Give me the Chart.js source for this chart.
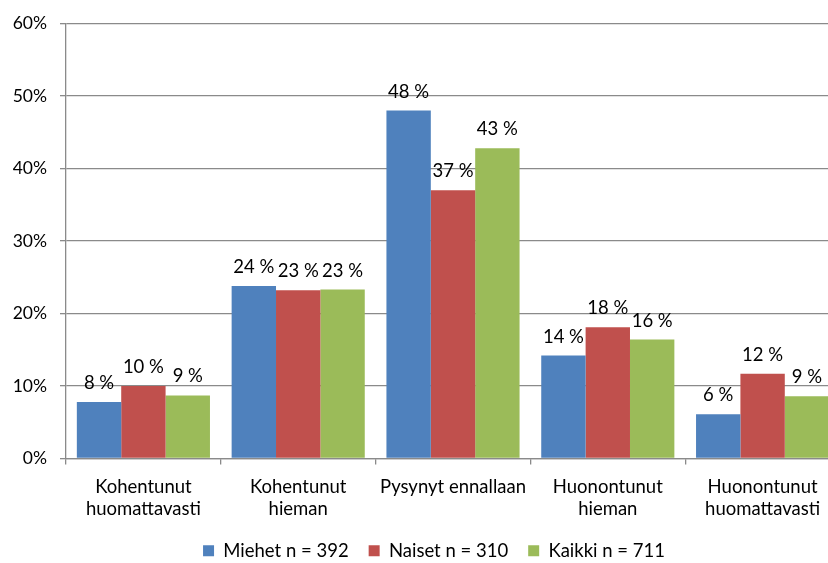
<!DOCTYPE html>
<html>
<head>
<meta charset="utf-8">
<script src="https://cdn.jsdelivr.net/npm/chart.js@4/dist/chart.umd.min.js"></script>
<style>
  html, body { margin: 0; padding: 0; background: #fff; overflow: hidden; }
  #wrap { position: absolute; left: 0; top: 0; width: 868px; height: 577px; }
</style>
</head>
<body>
<div id="wrap"><canvas id="c" width="868" height="577"></canvas></div>
<script>
// categories and series (percent)
const categories = [
  ['Kohentunut', 'huomattavasti'],
  ['Kohentunut', 'hieman'],
  'Pysynyt ennallaan',
  ['Huonontunut', 'hieman'],
  ['Huonontunut', 'huomattavasti'],
]
const miehet = [7.8, 23.8, 48.0, 14.2, 6.1]
const naiset = [10.0, 23.2, 37.0, 18.1, 11.7]
const kaikki = [8.7, 23.3, 42.8, 16.4, 8.6]
const seriesNames = ['Miehet n = 392', 'Naiset n = 310', 'Kaikki n = 711']
const yTicks = [0, 10, 20, 30, 40, 50, 60]

const FONT = 'Lato, "Open Sans", sans-serif'
const FS = 18.5
const GRID = '#8a8a8a'

// arvot palkkien päälle
const valueLabels = {
  id: 'valueLabels',
  afterDatasetsDraw(chart) {
    const ctx = chart.ctx
    ctx.save()
    ctx.font = FS + 'px ' + FONT
    ctx.fillStyle = '#000'
    ctx.textAlign = 'center'
    ctx.textBaseline = 'alphabetic'
    chart.data.datasets.forEach((ds, i) => {
      chart.getDatasetMeta(i).data.forEach((bar, j) => {
        ctx.fillText(Math.round(ds.data[j]) + ' %', bar.x, bar.y - 13)
      })
    })
    ctx.restore()
  },
}

// selite hieman oikealle ja ylös (keskitetty koko kuvan leveyteen)
const legendShift = {
  id: 'legendShift',
  afterLayout(chart) {
    const lg = chart.legend
    lg.left += 14; lg.right += 14
    lg.top -= 7; lg.bottom -= 7
  },
}

new Chart(document.getElementById('c'), {
  type: 'bar',
  data: {
    labels: categories,
    datasets: [
      { label: seriesNames[0], data: miehet, backgroundColor: '#4F81BD' },
      { label: seriesNames[1], data: naiset, backgroundColor: '#C0504D' },
      { label: seriesNames[2], data: kaikki, backgroundColor: '#9BBB59' },
    ],
  },
  options: {
    responsive: false,
    animation: false,
    layout: { padding: { top: 14, right: 28, left: 0, bottom: 0 } },
    datasets: { bar: { categoryPercentage: 0.86, barPercentage: 1.0 } },
    plugins: {
      legend: {
        position: 'bottom',
        labels: { boxWidth: 11, boxHeight: 11, padding: 20, color: '#000', font: { family: FONT, size: FS } },
      },
      tooltip: { enabled: false },
    },
    scales: {
      x: {
        grid: { drawOnChartArea: false, drawTicks: true, tickLength: 6, color: GRID, lineWidth: 1.3, offset: true },
        border: { color: GRID, width: 1.3 },
        ticks: { color: '#000', font: { family: FONT, size: FS, lineHeight: 1.22 }, maxRotation: 0, autoSkip: false, padding: 11 },
        afterFit: (s) => { s.height = 70 },
      },
      y: {
        min: yTicks[0],
        max: yTicks[yTicks.length - 1],
        afterBuildTicks: (s) => { s.ticks = yTicks.map((v) => ({ value: v })) },
        grid: { color: GRID, lineWidth: 1.3, tickLength: 6 },
        border: { color: GRID, width: 1.3 },
        ticks: { color: '#000', font: { family: FONT, size: 17.5 }, padding: 13, callback: (v) => v + '%' },
        afterFit: (s) => { s.width = 66 },
      },
    },
  },
  plugins: [valueLabels, legendShift],
})
</script>
</body>
</html>
